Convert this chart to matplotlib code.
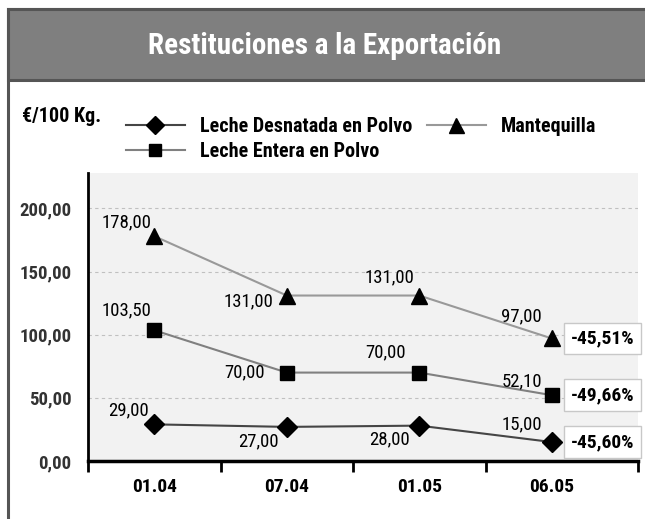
import matplotlib
matplotlib.use("Agg")
import matplotlib.pyplot as plt
from matplotlib.patches import Rectangle

plt.rcParams['font.family'] = ['Roboto Condensed', 'DejaVu Sans']

fechas = ["01.04", "07.04", "01.05", "06.05"]
desnatada = [29.00, 27.00, 28.00, 15.00]
entera = [103.50, 70.00, 70.00, 52.10]
mantequilla = [178.00, 131.00, 131.00, 97.00]
variacion = ["-45,60%", "-49,66%", "-45,51%"]  # desnatada, entera, mantequilla
y_ticks = [0, 50, 100, 150, 200]

fig = plt.figure(figsize=(6.45, 5.19), dpi=100)
fig.patch.set_facecolor("white")

# outer frame and title band
fig.add_artist(Rectangle((8 / 645, -0.1), 1.2, 1.1 - 9 / 519, transform=fig.transFigure,
                         facecolor="none", edgecolor="#555555", linewidth=2.2))
fig.add_artist(Rectangle((8 / 645, 1 - 80 / 519), 1.2, 71 / 519, transform=fig.transFigure,
                         facecolor="#7f7f7f", edgecolor="#555555", linewidth=2.2))
fig.text(325 / 645, 1 - 46 / 519, "Restituciones a la Exportación", color="white",
         fontsize=21, fontweight="bold", ha="center", va="center")
fig.text(22 / 645, 1 - 116 / 519, "€/100 Kg.", fontsize=14.5, fontweight="bold",
         ha="left", va="center")

ax = fig.add_axes([88 / 645, 1 - 461 / 519, 550 / 645, 288 / 519])
ax.set_facecolor("#f2f2f2")
x = range(len(fechas))

l1, = ax.plot(x, desnatada, color="#454545", lw=1.5, marker="D", ms=10,
              mfc="black", mec="black", label="Leche Desnatada en Polvo", zorder=3)
l2, = ax.plot(x, entera, color="#808080", lw=1.5, marker="s", ms=10,
              mfc="black", mec="black", label="Leche Entera en Polvo", zorder=3)
l3, = ax.plot(x, mantequilla, color="#999999", lw=1.5, marker="^", ms=12,
              mfc="black", mec="black", label="Mantequilla", zorder=3)

def fmt(v):
    return f"{v:.2f}".replace(".", ",")

offs = {
    "m": [(-28, 14), (-38, -6), (-30, 18), (-30, 22)],
    "e": [(-28, 20), (-42, 0), (-34, 20), (-30, 14)],
    "d": [(-26, 14), (-28, -14), (-30, -14), (-30, 18)],
}
for key, serie in (("m", mantequilla), ("e", entera), ("d", desnatada)):
    for i, v in enumerate(serie):
        ax.annotate(fmt(v), (i, v), xytext=offs[key][i], textcoords="offset pixels",
                    ha="center", va="center", fontsize=13.5)

for serie, txt in zip((desnatada, entera, mantequilla), variacion):
    ax.annotate(txt, (3, serie[-1]), xytext=(51, 0), textcoords="offset pixels",
                ha="center", va="center", fontsize=14, fontweight="bold",
                bbox=dict(boxstyle="square,pad=0.35", fc="white", ec="#c8c8c8", lw=1),
                zorder=5)

ax.set_xlim(-0.5, 3.65)
ax.set_ylim(0, 228)
ax.set_yticks(y_ticks)
ax.set_yticklabels([fmt(v) for v in y_ticks], fontsize=13.5, fontweight="bold", color="#333333")
ax.tick_params(axis="y", length=0, pad=12)
ax.set_xticks(list(x))
ax.set_xticklabels(fechas, fontsize=14, fontweight="bold")
ax.tick_params(axis="x", which="major", length=0, pad=12)
ax.set_xticks([-0.5, 0.5, 1.5, 2.5, 3.65], minor=True)
ax.tick_params(axis="x", which="minor", length=8, width=2, direction="out")
for yv in y_ticks[1:]:
    ax.axhline(yv, color="#c0c0c0", lw=0.8, ls=(0, (3, 3)), zorder=1)

for s in ("top", "right"):
    ax.spines[s].set_visible(False)
ax.spines["left"].set_linewidth(2)
ax.spines["bottom"].set_linewidth(2.5)

fig.legend(handles=[l1, l2, l3], loc="upper left", bbox_to_anchor=(108 / 645, 1 - 99 / 519),
           ncol=2, frameon=False, handlelength=2.9, handletextpad=0.75, columnspacing=0.75,
           labelspacing=0.3, markerscale=0.9, prop={"weight": "bold", "size": 14.5})

fig.savefig("out.png", dpi=100)
